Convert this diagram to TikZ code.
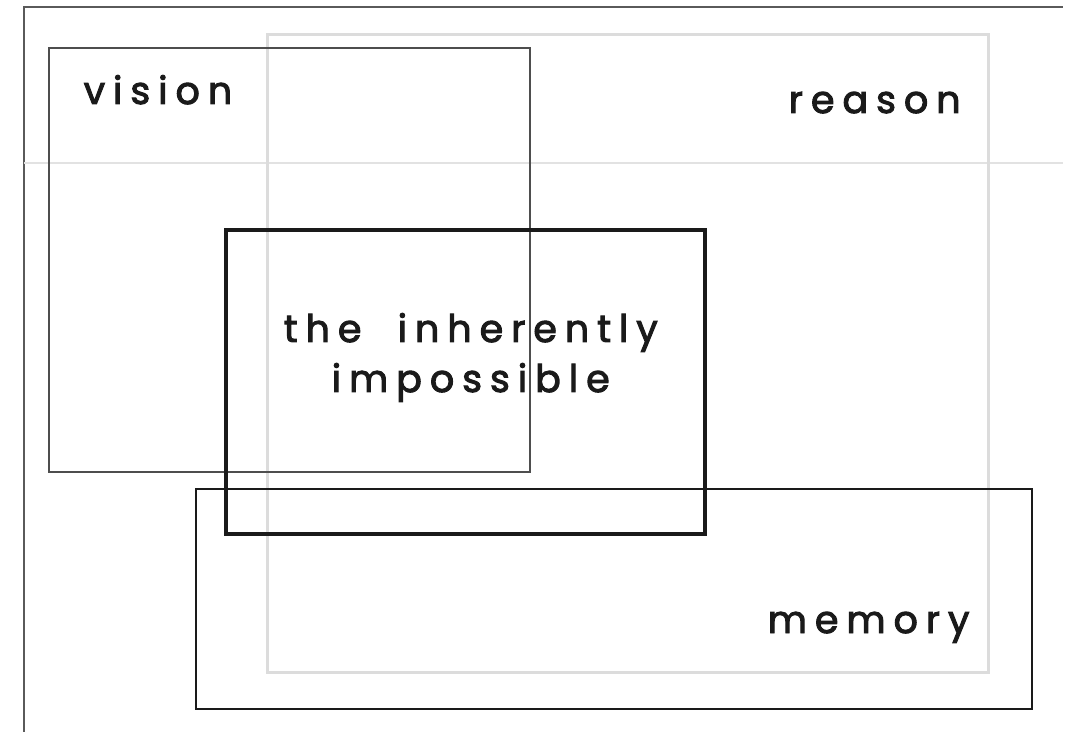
\documentclass[tikz,border=0pt]{standalone}
\usepackage{fontspec}
\setmainfont{Poppins}
\newfontfamily\tracked{Poppins}[LetterSpace=21,WordSpace=2,FakeBold=2.6]
\definecolor{framegray}{HTML}{5A5A5A}
\definecolor{visiongray}{HTML}{4E4E4E}
\definecolor{reasongray}{HTML}{DCDCDC}
\definecolor{guidegray}{HTML}{E2E2E2}
\definecolor{inkblack}{HTML}{1A1A1A}
\begin{document}
\begin{tikzpicture}[x=0.5pt,y=-0.5pt,line width=0.8pt,
  every node/.style={font=\tracked\fontsize{19}{25}\selectfont,text=inkblack,inner sep=0pt,align=center},
  framerule/.style={draw=framegray,line width=0.7pt},
  guiderule/.style={draw=guidegray,line width=1pt},
  reasonbox/.style={draw=reasongray,line width=1.5pt},
  visionbox/.style={draw=visiongray,line width=1.2pt},
  memorybox/.style={draw=inkblack,line width=0.8pt},
  coreebox/.style={draw=inkblack,line width=2.4pt}]
\useasboundingbox (0,0) rectangle (1077,732);
\coordinate (Fl) at (24,732);
\coordinate (Fc) at (24,7);
\coordinate (Fr) at (1063,7);
\coordinate (Gl) at (24,163);
\coordinate (Gr) at (1063,163);
\coordinate (R1) at (267,35);
\coordinate (R2) at (988,672);
\coordinate (V1) at (49,48);
\coordinate (V2) at (530,472);
\coordinate (M1) at (196,489);
\coordinate (M2) at (1032,709);
\coordinate (C1) at (226,230);
\coordinate (C2) at (705,534);
\draw[framerule] (Fl) -- (Fc) -- (Fr);
\draw[guiderule] (Gl) -- (Gr);
\draw[reasonbox] (R1) rectangle (R2);
\draw[visionbox] (V1) rectangle (V2);
\draw[memorybox] (M1) rectangle (M2);
\draw[coreebox] (C1) rectangle (C2);
\node[anchor=base west] (vision) at (83,104) {vision};
\node[anchor=base west] (reason) at (788,113) {reason};
\node[anchor=base west] (memory) at (767,633) {memory};
\node[anchor=base west] (line1) at (283,342) {the inherently};
\node[anchor=base west] (line2) at (331,392) {impossible};
\end{tikzpicture}
\end{document}
